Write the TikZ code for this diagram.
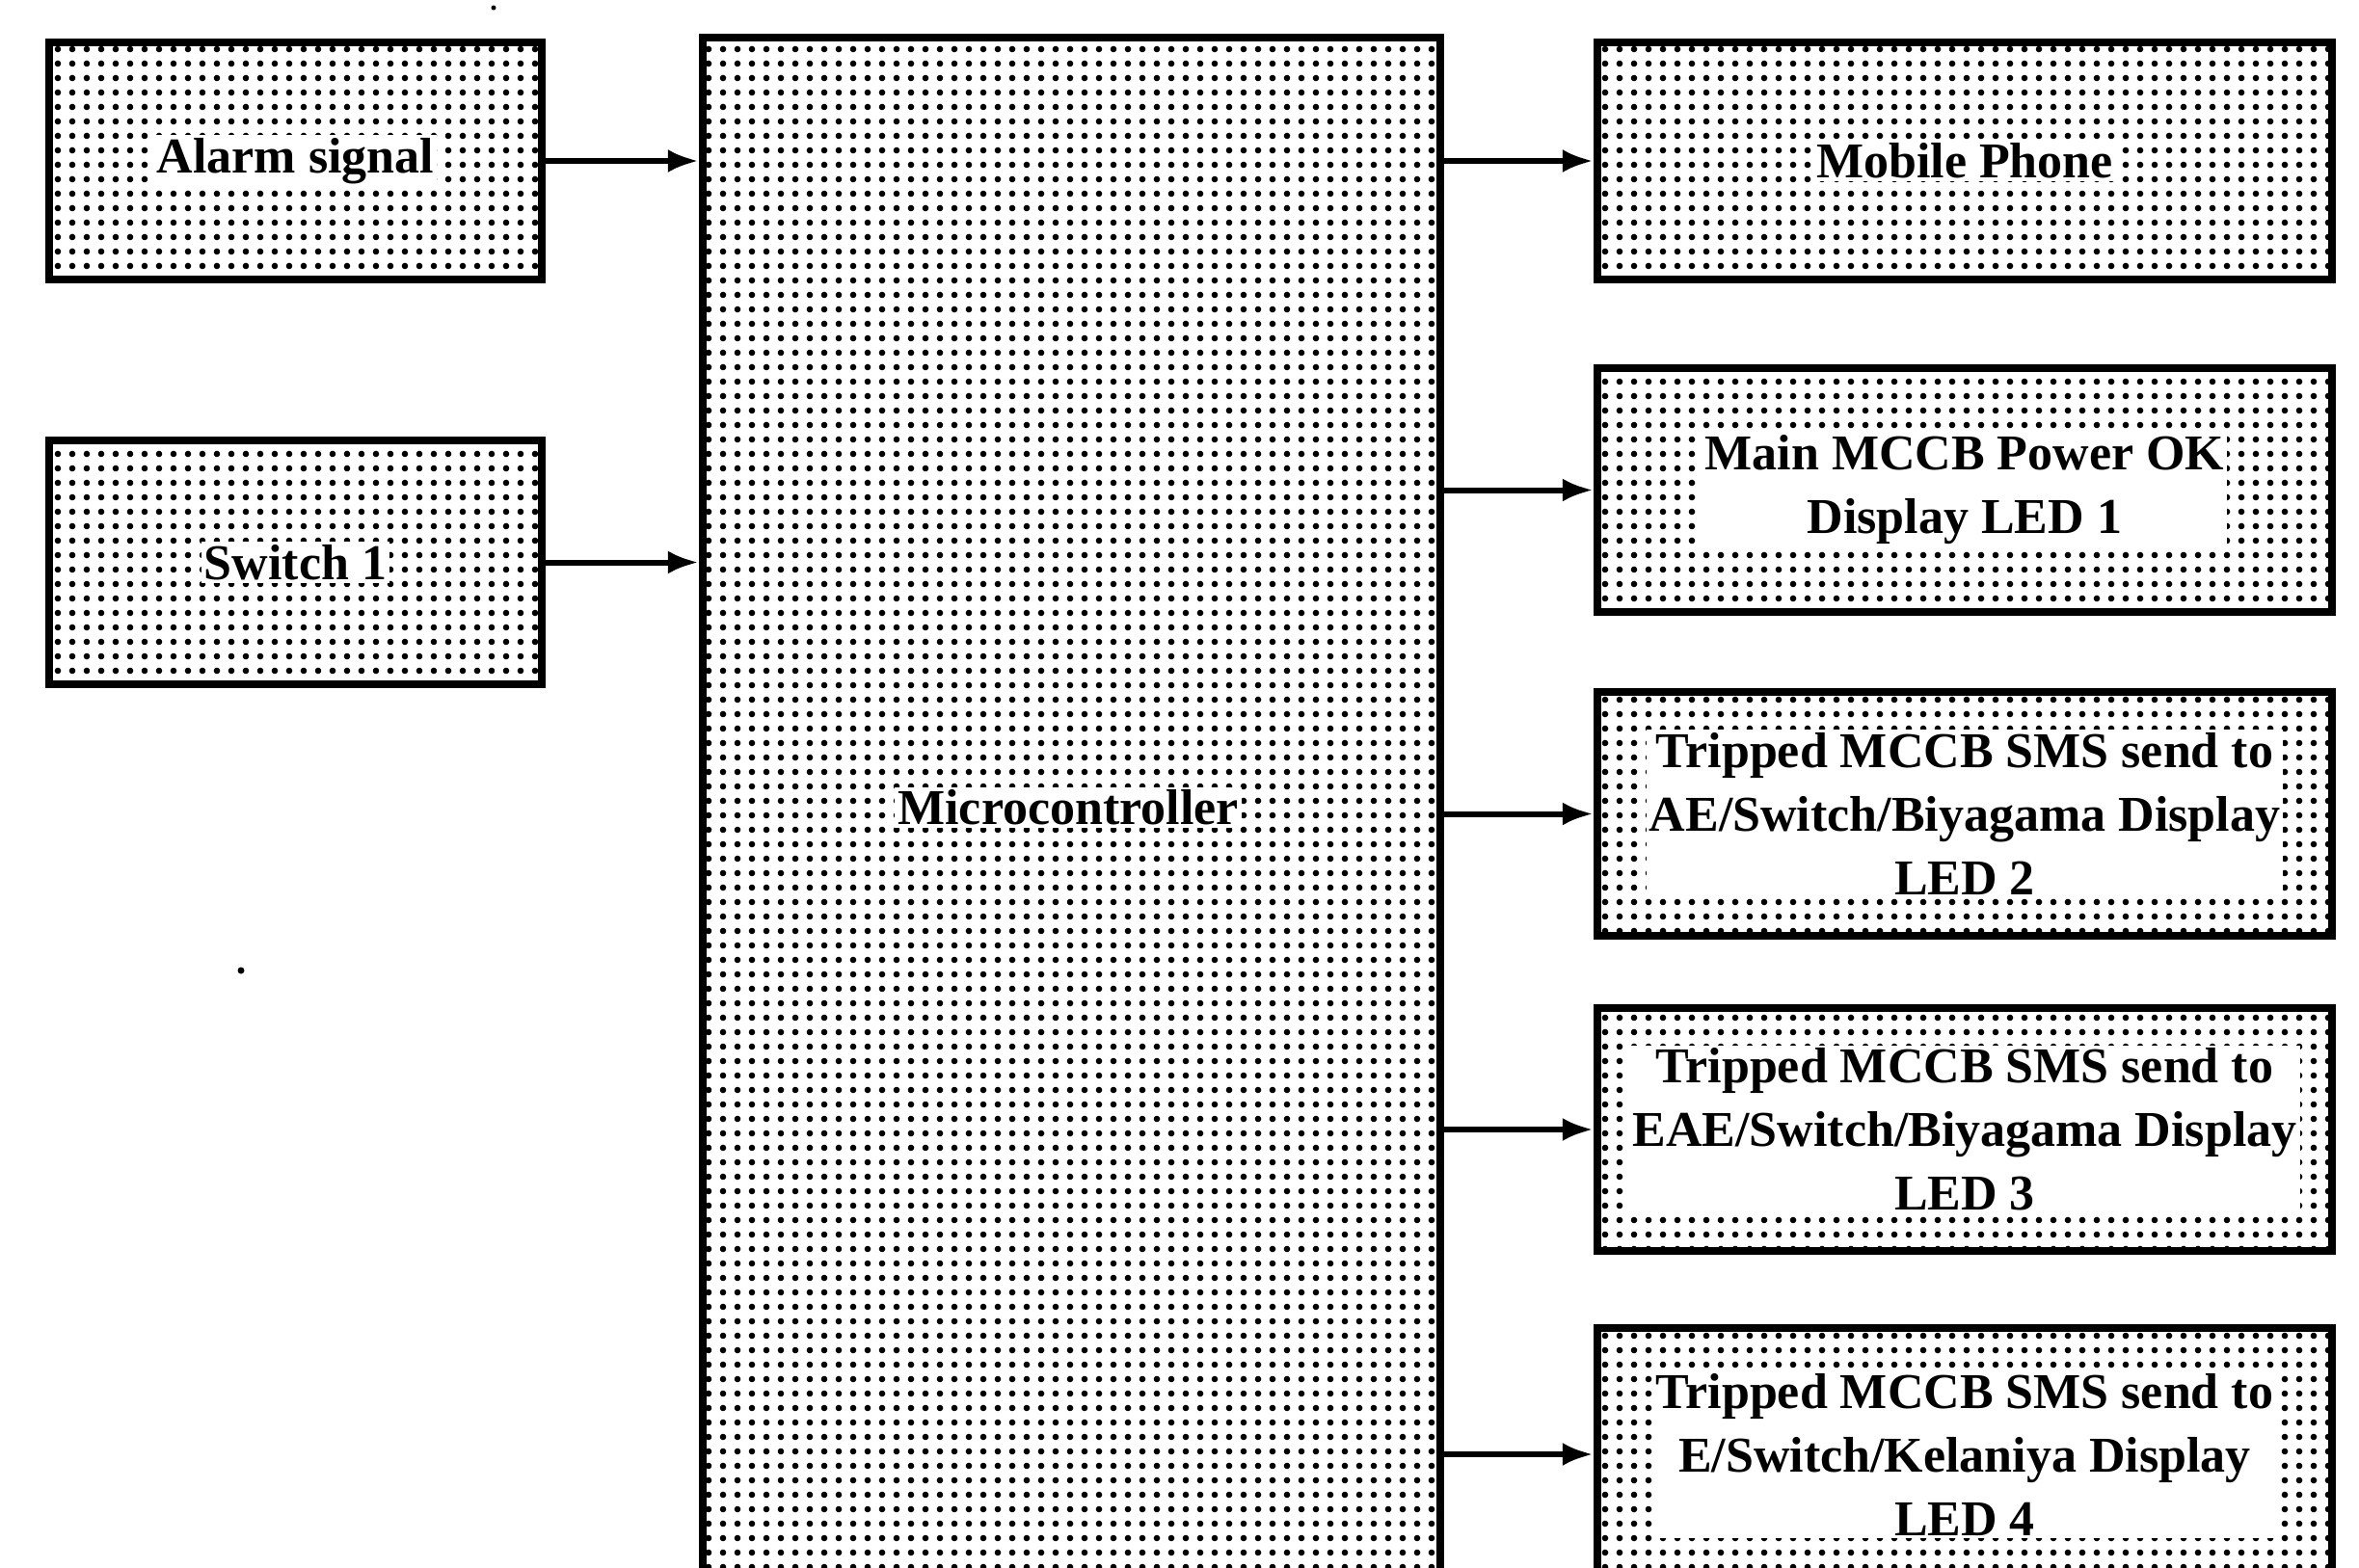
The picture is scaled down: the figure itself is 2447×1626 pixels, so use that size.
\documentclass[tikz,border=0pt]{standalone}
\usepackage{fontspec}
\setmainfont{Liberation Serif}
\usetikzlibrary{arrows.meta,patterns.meta}
\begin{document}
\begin{tikzpicture}[x=1pt,y=-1pt,
  blk/.style={draw=black, line width=8.5pt, pattern={Dots[distance=15pt,radius=3.3pt]}, pattern color=black, inner sep=0pt},
  txt/.style={fill=white, inner sep=3pt, font=\fontsize{52}{66}\selectfont\bfseries, align=center},
  conn/.style={line width=6pt, -{Latex[length=32pt,width=24pt]}}]
\useasboundingbox (0,0) rectangle (2447,1626);
\clip (0,0) rectangle (2447,1626);
% left boxes
\node[blk, minimum width=511pt, minimum height=246pt] (alarm) at (306.5,167) {};
\node[blk, minimum width=511pt, minimum height=253pt] (switch) at (306.5,583.5) {};
% microcontroller
\node[blk, minimum width=765pt, minimum height=1661pt] (micro) at (1111.5,869.5) {};
% right boxes
\node[blk, minimum width=762pt, minimum height=246pt] (mobile) at (2038,167) {};
\node[blk, minimum width=762pt, minimum height=253pt] (mccb) at (2038,508.5) {};
\node[blk, minimum width=762pt, minimum height=253pt] (ledtwo) at (2038,844.5) {};
\node[blk, minimum width=762pt, minimum height=252pt] (ledthree) at (2038,1172) {};
\node[blk, minimum width=762pt, minimum height=262pt] (ledfour) at (2038,1509) {};
% texts
\node[txt] (alarmT) at (alarm) {Alarm signal};
\node[txt] (switchT) at (switch) {Switch 1};
\node[txt] (microT) at (1108,838) {Microcontroller};
\node[txt] (mobileT) at (mobile) {Mobile Phone};
\node[txt] (mccbT) at (mccb) {Main MCCB Power OK\\Display LED 1};
\node[txt] (ledtwoT) at (ledtwo) {Tripped MCCB SMS send to\\AE/Switch/Biyagama Display\\LED 2};
\node[txt] (ledthreeT) at (ledthree) {Tripped MCCB SMS send to\\EAE/Switch/Biyagama Display\\LED 3};
\node[txt] (ledfourT) at (ledfour) {Tripped MCCB SMS send to\\E/Switch/Kelaniya Display\\LED 4};
% connectors
\draw[conn] (alarm.east) -- (alarm.east -| micro.west);
\draw[conn] (switch.east) -- (switch.east -| micro.west);
\draw[conn] (micro.east |- mobile.west) -- (mobile.west);
\draw[conn] (micro.east |- mccb.west) -- (mccb.west);
\draw[conn] (micro.east |- ledtwo.west) -- (ledtwo.west);
\draw[conn] (micro.east |- ledthree.west) -- (ledthree.west);
\draw[conn] (micro.east |- ledfour.west) -- (ledfour.west);
% specks
\fill (250,1007) circle (3.5pt);
\fill (512,8) circle (2.5pt);
\end{tikzpicture}
\end{document}
